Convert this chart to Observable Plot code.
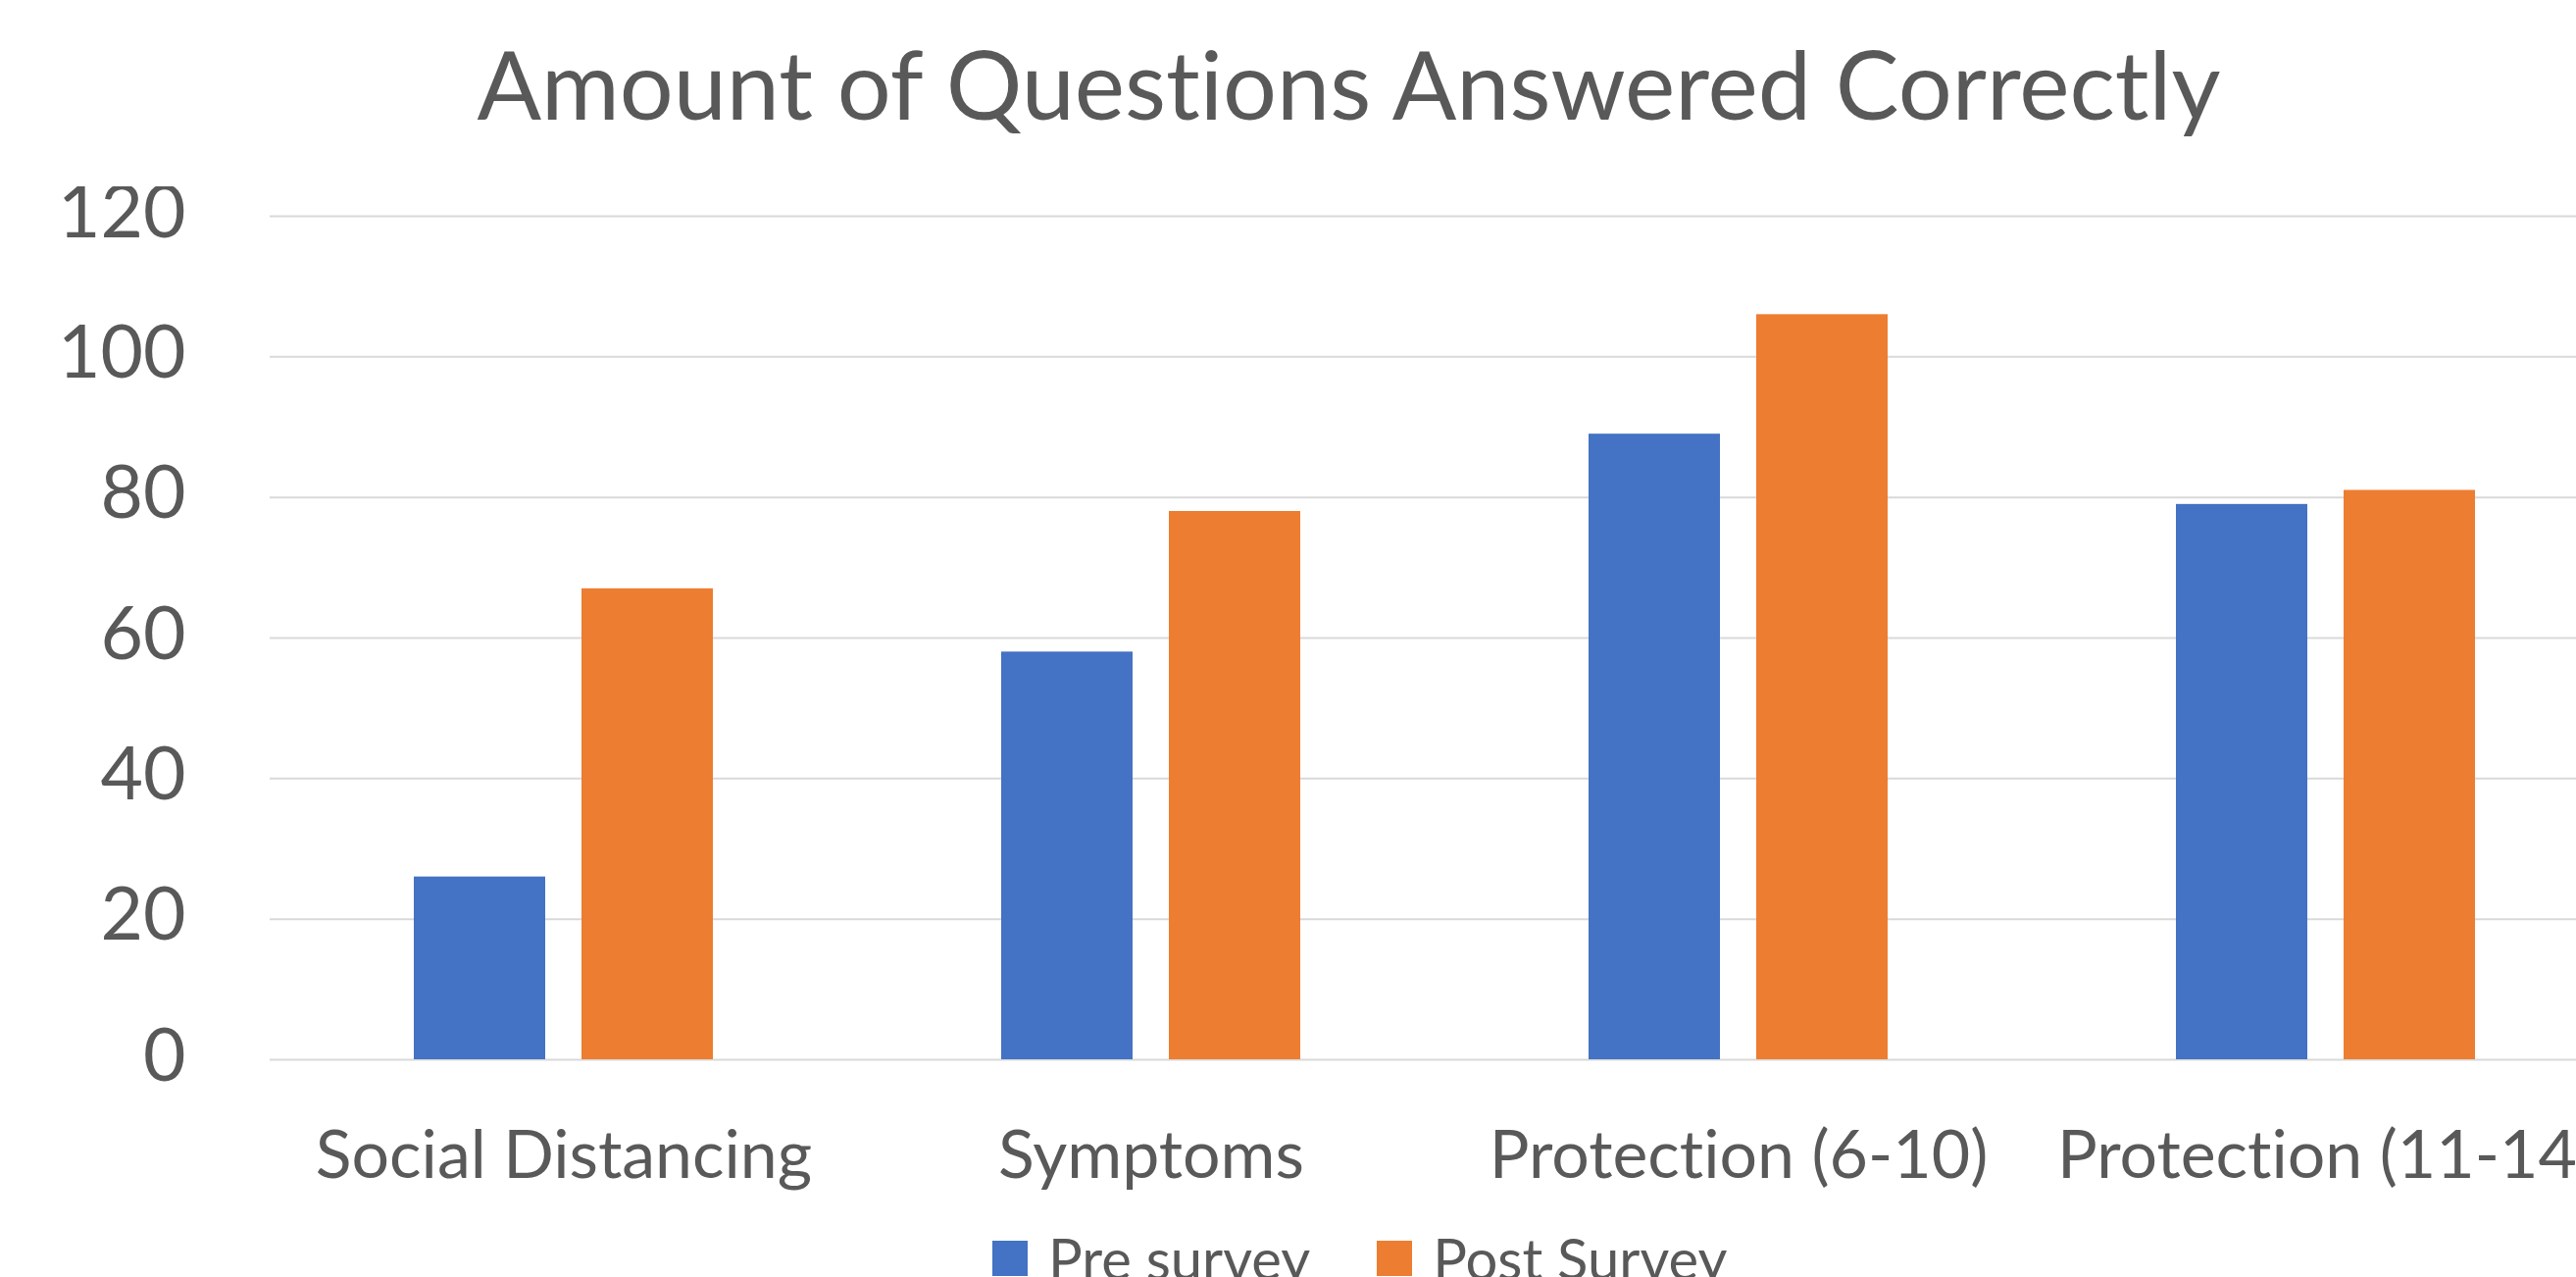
<!DOCTYPE html>
<html><head><meta charset="utf-8">
<script src="https://cdn.jsdelivr.net/npm/d3@7"></script>
<script src="https://cdn.jsdelivr.net/npm/@observablehq/plot@0.6"></script>
<style>
html,body{margin:0;padding:0;background:#fff;overflow:hidden;}
#wrap{position:relative;width:2751px;height:1302px;font-family:Lato,sans-serif;color:#595959;font-variant-ligatures:none;}
#wrap svg text{font-variant-ligatures:none;}
#title{position:absolute;left:0;top:27px;width:2751px;text-align:center;font-size:97px;line-height:1.2;white-space:nowrap;}
#chart{position:absolute;left:0;top:190px;width:2751px;}
#legend{position:absolute;left:1012px;top:1248px;}
.leg-swatches{font-family:Lato,sans-serif !important;font-size:58px !important;color:#595959 !important;font-variant-ligatures:none;}
.leg-swatch{margin-right:68px !important;}
.leg-swatch > svg{margin-right:21px !important;}
</style></head>
<body><div id="wrap"><div id="title"></div><div id="chart"></div><div id="legend"></div></div>
<script>
const title = "Amount of Questions Answered Correctly";
const categories = ["Social Distancing", "Symptoms", "Protection (6-10)", "Protection (11-14)"];
const series = ["Pre survey", "Post Survey"];
const preValues = [26, 58, 89, 79];
const postValues = [67, 78, 106, 81];
const yTicks = [0, 20, 40, 60, 80, 100, 120];
const colors = ["#4472C4", "#ED7D31"];

const data = categories.flatMap((c, i) => [
  {category: c, series: series[0], value: preValues[i]},
  {category: c, series: series[1], value: postValues[i]}
]);

document.getElementById("title").textContent = title;

const plot = Plot.plot({
  width: 2751,
  height: 1112,
  marginLeft: 275,
  marginRight: 80,
  marginTop: 30,
  marginBottom: 222,
  style: {fontFamily: "Lato, sans-serif", color: "#595959", background: "transparent", maxWidth: "none"},
  fx: {domain: categories, padding: 0, round: false},
  x: {domain: series, paddingInner: 0.2164, paddingOuter: 0.8597, round: false, axis: null},
  y: {domain: [0, 120]},
  color: {domain: series, range: colors},
  marks: [
    Plot.gridY(yTicks, {stroke: "#d9d9d9", strokeOpacity: 1, strokeWidth: 2}),
    Plot.barY(data, {fx: "category", x: "series", y: "value", fill: "series"}),
    Plot.axisY(yTicks, {tickSize: 0, tickPadding: 86, fontSize: 75, label: null, fill: "#595959", dy: -3}),
    Plot.axisFx({anchor: "bottom", tickSize: 0, tickPadding: 72, fontSize: 68, label: null, fill: "#595959"})
  ]
});
document.getElementById("chart").appendChild(plot);

const leg = plot.legend("color", {
  legend: "swatches",
  swatchSize: 36,
  className: "leg",
  style: {fontFamily: "Lato, sans-serif", fontSize: "58px", color: "#595959"}
});
document.getElementById("legend").appendChild(leg);
</script>
</body></html>
